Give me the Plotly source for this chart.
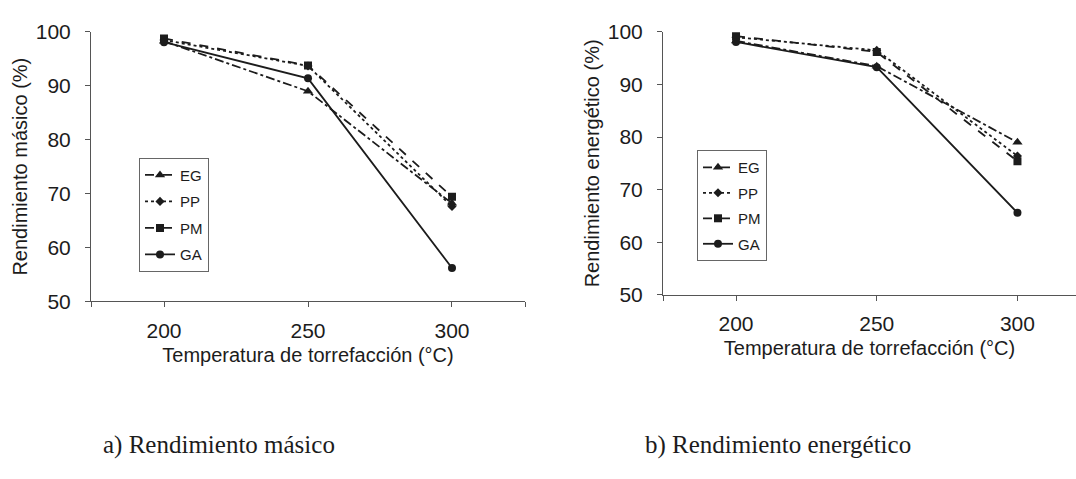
import plotly.graph_objects as go

W, H = 1076, 479

temps = [200, 250, 300]
series_names = ["EG", "PP", "PM", "GA"]

masico_EG = [98.3, 89.0, 68.2]
masico_PP = [98.5, 93.7, 67.6]
masico_PM = [98.8, 93.8, 69.4]
masico_GA = [98.1, 91.4, 56.2]

energ_EG = [98.3, 93.5, 79.0]
energ_PP = [99.0, 96.5, 76.4]
energ_PM = [99.2, 96.2, 75.4]
energ_GA = [98.1, 93.3, 65.6]

y_ticks = [50, 60, 70, 80, 90, 100]
x_tick_labels = ["200", "250", "300"]

ytitle_left = "Rendimiento másico (%)"
ytitle_right = "Rendimiento energético (%)"
xtitle = "Temperatura de torrefacción (°C)"
caption_left = "a) Rendimiento másico"
caption_right = "b) Rendimiento energético"

INK = "#1c1c1c"
styles = {
    "EG": dict(dash="dashdot", symbol="triangle-up", size=9),
    "PP": dict(dash="dot", symbol="diamond", size=7),
    "PM": dict(dash="dash", symbol="square", size=8),
    "GA": dict(dash="solid", symbol="circle", size=8),
}

fig = go.Figure()

left_data = dict(EG=masico_EG, PP=masico_PP, PM=masico_PM, GA=masico_GA)
right_data = dict(EG=energ_EG, PP=energ_PP, PM=energ_PM, GA=energ_GA)

for name in series_names:
    st = styles[name]
    fig.add_trace(go.Scatter(
        x=temps, y=left_data[name], name=name, mode="lines+markers",
        line=dict(color=INK, width=1.8, dash=st["dash"]),
        marker=dict(color=INK, symbol=st["symbol"], size=st["size"]),
        xaxis="x", yaxis="y", legend="legend", legendgroup="L" + name,
    ))
for name in series_names:
    st = styles[name]
    fig.add_trace(go.Scatter(
        x=temps, y=right_data[name], name=name, mode="lines+markers",
        line=dict(color=INK, width=1.8, dash=st["dash"]),
        marker=dict(color=INK, symbol=st["symbol"], size=st["size"]),
        xaxis="x2", yaxis="y2", legend="legend2", legendgroup="R" + name,
    ))

FONT = "Liberation Sans, Arial, sans-serif"

def xaxis_cfg(domain, rng):
    return dict(
        domain=domain, range=rng,
        tickvals=[rng[0]] + temps + [rng[1]],
        ticktext=[""] + x_tick_labels + [""],
        ticks="outside", ticklen=5, tickcolor="#555", tickwidth=1,
        ticklabelstandoff=5,
        showline=True, linecolor="#555", linewidth=1,
        showgrid=False, zeroline=False,
        tickfont=dict(family=FONT, size=21, color=INK),
        title=dict(text=xtitle, font=dict(family=FONT, size=20, color=INK), standoff=7),
    )

def yaxis_cfg(domain, anchor, standoff):
    return dict(
        domain=domain, range=[50, 100], anchor=anchor,
        tickvals=y_ticks,
        ticks="outside", ticklen=5, tickcolor="#555", tickwidth=1,
        ticklabelstandoff=10,
        showline=True, linecolor="#555", linewidth=1,
        showgrid=False, zeroline=False,
        tickfont=dict(family=FONT, size=21, color=INK),
        title=dict(font=dict(family=FONT, size=20, color=INK), standoff=standoff),
    )

lx = [91 / W, 525 / W]
ly = [(H - 304) / H, (H - 21) / H]
rx = [663 / W, 1.0]
ry = [(H - 297) / H, (H - 21) / H]

fig.update_layout(
    width=W, height=H,
    margin=dict(l=0, r=0, t=0, b=0),
    paper_bgcolor="white", plot_bgcolor="white",
    xaxis=dict(**xaxis_cfg(lx, [174.65, 325.35]), anchor="y"),
    yaxis=yaxis_cfg(ly, "x", 2),
    xaxis2=dict(**xaxis_cfg(rx, [174.05, 320.8]), anchor="y2"),
    yaxis2=yaxis_cfg(ry, "x2", 2),
    legend=dict(x=139 / W, y=(H - 153) / H, xanchor="left", yanchor="top",
                bordercolor="#666", borderwidth=1, bgcolor="white",
                font=dict(family=FONT, size=15, color=INK),
                tracegroupgap=4, itemwidth=30),
    legend2=dict(x=697 / W, y=(H - 145) / H, xanchor="left", yanchor="top",
                 bordercolor="#666", borderwidth=1, bgcolor="white",
                 font=dict(family=FONT, size=15, color=INK),
                 tracegroupgap=3, itemwidth=30),
    showlegend=True,
)
fig.layout.yaxis.title.text = ytitle_left
fig.layout.yaxis2.title.text = ytitle_right

fig.add_annotation(x=219 / W, y=(H - 455) / H, xref="paper", yref="paper",
                   xanchor="center", yanchor="middle",
                   text=caption_left, showarrow=False,
                   font=dict(family="Liberation Serif, serif", size=25, color=INK))
fig.add_annotation(x=778 / W, y=(H - 455) / H, xref="paper", yref="paper",
                   xanchor="center", yanchor="middle",
                   text=caption_right, showarrow=False,
                   font=dict(family="Liberation Serif, serif", size=25, color=INK))

fig.write_html("out.html")
